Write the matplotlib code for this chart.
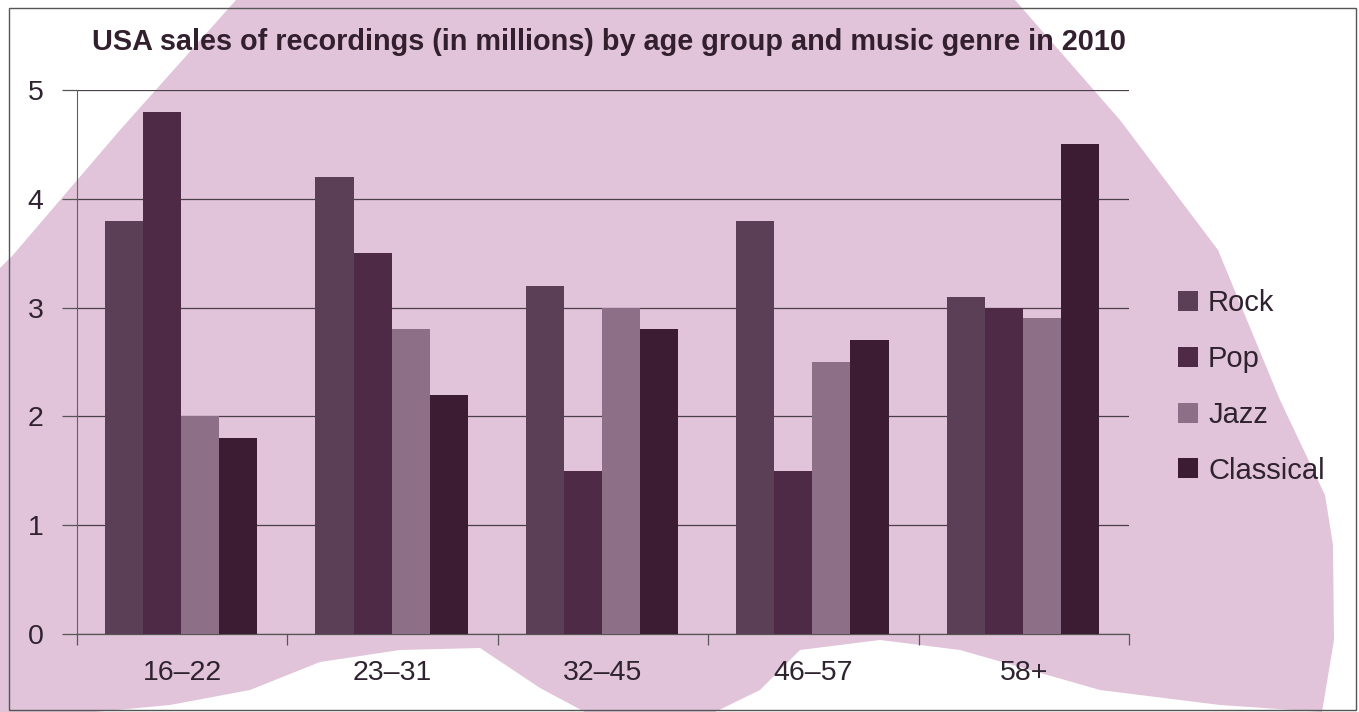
import numpy as np
import matplotlib
matplotlib.use("Agg")
import matplotlib.pyplot as plt
from matplotlib.patches import Polygon, Rectangle

# ---- data ----
age_groups = ["16\u201322", "23\u201331", "32\u201345", "46\u201357", "58+"]
genres = ["Rock", "Pop", "Jazz", "Classical"]
rock = [3.8, 4.2, 3.2, 3.8, 3.1]
pop = [4.8, 3.5, 1.5, 1.5, 3.0]
jazz = [2.0, 2.8, 3.0, 2.5, 2.9]
classical = [1.8, 2.2, 2.8, 2.7, 4.5]
y_ticks = [0, 1, 2, 3, 4, 5]
title = "USA sales of recordings (in millions) by age group and music genre in 2010"

colors = ["#5b3f57", "#4e2a47", "#8d6f87", "#3c1c33"]
pink = "#e1c4d9"
text_color = "#2f2330"

plt.rcParams["font.family"] = ["Liberation Sans", "DejaVu Sans"]

W, H = 1359, 712
fig = plt.figure(figsize=(W / 100, H / 100), dpi=100)
fig.patch.set_facecolor("white")

# background decoration (pixel coordinates)
bg = fig.add_axes([0, 0, 1, 1], zorder=0)
bg.set_xlim(0, W)
bg.set_ylim(H, 0)
bg.axis("off")
bg.add_patch(Rectangle((0, 0), W, H, facecolor=pink, edgecolor="none"))
white_shapes = [
    [(0, 0), (236, 0), (120, 130), (13, 255), (0, 268)],
    [(1015, 0), (W, 0), (W, H), (1322, H), (1334, 640), (1333, 545),
     (1325, 495), (1280, 400), (1218, 250), (1120, 120)],
    [(95, H), (170, 705), (250, 690), (320, 662), (400, 650), (480, 648),
     (540, 688), (585, H)],
    [(715, H), (760, 690), (800, 650), (880, 640), (960, 650), (1100, 690),
     (1220, 705), (1322, H)],
]
for pts in white_shapes:
    bg.add_patch(Polygon(pts, closed=True, facecolor="white", edgecolor="none"))
bg.add_patch(Rectangle((9, 8), 1347, 702, facecolor="none",
                       edgecolor="#555555", linewidth=1.0))

# main axes
left, right, top, bottom = 77, 1129, 90, 634
ax = fig.add_axes([left / W, (H - bottom) / H, (right - left) / W, (bottom - top) / H],
                  zorder=2)
ax.set_facecolor("none")

x = np.arange(len(age_groups))
bw = 38 / 210
start = -0.5 + 28 / 210
series = [rock, pop, jazz, classical]
for i, (vals, c, g) in enumerate(zip(series, colors, genres)):
    ax.bar(x + start + bw * (i + 0.5), vals, width=bw, color=c, label=g, zorder=3)

ax.set_xlim(-0.5, len(age_groups) - 0.5)
ax.set_ylim(0, 5)
ax.set_yticks(y_ticks)
ax.set_yticklabels([str(v) for v in y_ticks])
ax.yaxis.grid(True, color="#4a3f48", linewidth=0.9)
ax.set_axisbelow(True)

ax.set_xticks(np.arange(len(age_groups) + 1) - 0.5)
ax.set_xticklabels([])
ax.set_xticks(x, minor=True)
ax.set_xticklabels(age_groups, minor=True)
ax.tick_params(axis="x", which="major", length=8, width=0.9, color="#555555", direction="out")
ax.tick_params(axis="x", which="minor", length=0, pad=19, labelsize=20.5, labelcolor=text_color)
ax.tick_params(axis="y", length=11, width=0.9, color="#555555", pad=13,
               labelsize=20.5, labelcolor=text_color)
for s in ["top", "right"]:
    ax.spines[s].set_visible(False)
ax.spines["left"].set_color("#6a5a66")
ax.spines["left"].set_linewidth(0.8)
ax.spines["bottom"].set_color("#555555")
ax.spines["bottom"].set_linewidth(0.9)

fig.text(609 / W, 1 - 50 / H, title, ha="center", va="baseline", fontsize=20.8,
         fontweight="bold", color="#33202f")

handles = [Rectangle((0, 0), 1, 1, facecolor=c, edgecolor="none") for c in colors]
leg = fig.legend(handles, genres, loc="center left",
                 bbox_to_anchor=(1178 / W, 1 - 387 / H), frameon=False,
                 fontsize=21, handlelength=0.68, handleheight=0.68,
                 handletextpad=0.35, labelspacing=0.95, borderpad=0,
                 borderaxespad=0)
for t in leg.get_texts():
    t.set_color(text_color)

fig.savefig("out.png", dpi=100)
